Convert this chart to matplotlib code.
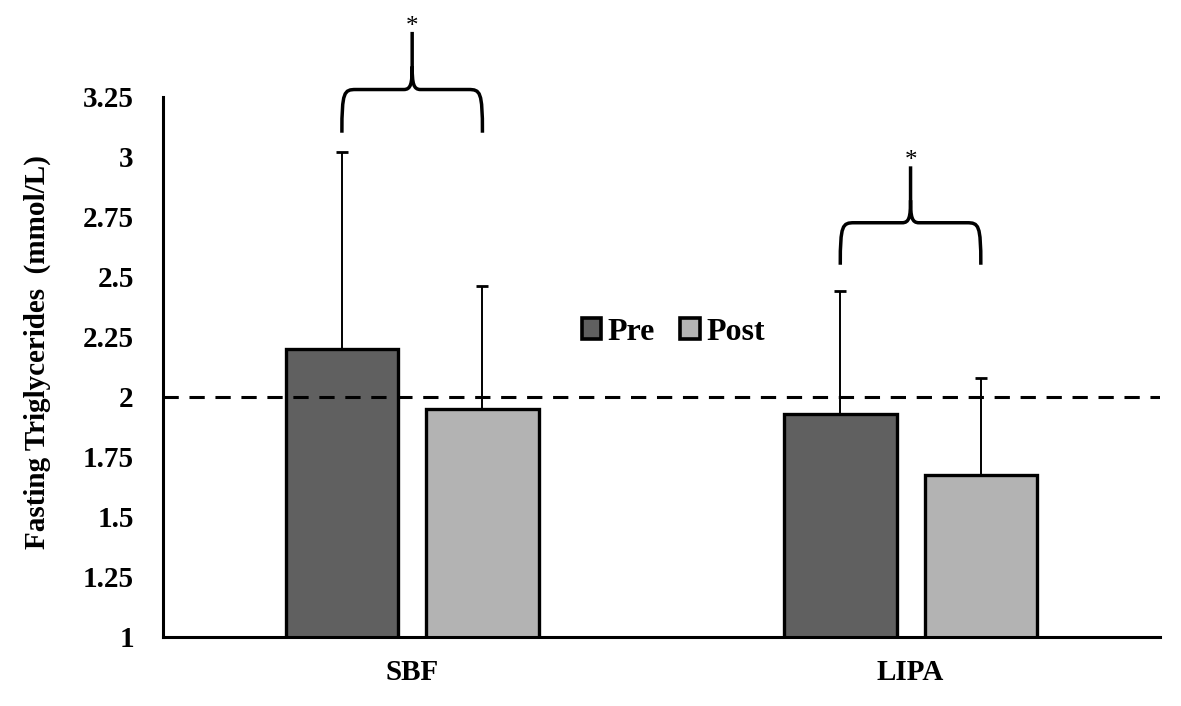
import numpy as np
import matplotlib.pyplot as plt
from matplotlib.path import Path
from matplotlib.patches import PathPatch, Patch

# 数据
groups = ['SBF', 'LIPA']
pre_mean = [2.20, 1.93]
post_mean = [1.95, 1.675]
pre_err = [0.82, 0.51]
post_err = [0.51, 0.405]
reference_level = 2.0
y_ticks = [1, 1.25, 1.5, 1.75, 2, 2.25, 2.5, 2.75, 3, 3.25]
# 显著性括号高度: (端点, 横线, 尖端)
brace_levels = [(3.10, 3.28, 3.52), (2.55, 2.725, 2.96)]

plt.rcParams['font.family'] = ['Liberation Serif', 'DejaVu Serif']
plt.rcParams['font.weight'] = 'bold'


def draw_brace(ax, x0, x1, y_end, y_bar, y_tip):
    """画一个朝上的花括号"""
    xm = (x0 + x1) / 2
    h = y_bar - y_end
    dx = 0.028
    t = y_tip - y_bar
    verts = [
        (x0, y_end),
        (x0, y_end + h * 0.95), (x0 + dx * 0.15, y_bar), (x0 + dx, y_bar),
        (xm - dx * 0.6, y_bar),
        (xm - dx * 0.1, y_bar), (xm, y_bar + t * 0.1), (xm, y_bar + t * 0.4),
        (xm, y_tip),
        (xm, y_bar + t * 0.4),
        (xm, y_bar + t * 0.1), (xm + dx * 0.1, y_bar), (xm + dx * 0.6, y_bar),
        (x1 - dx, y_bar),
        (x1 - dx * 0.15, y_bar), (x1, y_end + h * 0.95), (x1, y_end),
    ]
    codes = [Path.MOVETO,
             Path.CURVE4, Path.CURVE4, Path.CURVE4,
             Path.LINETO,
             Path.CURVE4, Path.CURVE4, Path.CURVE4,
             Path.LINETO,
             Path.MOVETO,
             Path.CURVE4, Path.CURVE4, Path.CURVE4,
             Path.LINETO,
             Path.CURVE4, Path.CURVE4, Path.CURVE4]
    patch = PathPatch(Path(verts, codes), fill=False, lw=2.5, ec='black',
                      clip_on=False, capstyle='butt', joinstyle='round')
    ax.add_patch(patch)
    ax.text(xm, y_tip - 0.025, '*', ha='center', va='bottom', fontsize=18,
            fontweight='normal', clip_on=False)


fig = plt.figure(figsize=(11.81, 7.06), dpi=100)
ax = fig.add_axes([0.138, 0.098, 0.844, 0.765])

x = np.arange(len(groups))
width = 0.226
offset = 0.141
pre_color = '#606060'
post_color = '#b3b3b3'

ax.bar(x - offset, pre_mean, width, bottom=0, color=pre_color, edgecolor='black', linewidth=2.4, zorder=2)
ax.bar(x + offset, post_mean, width, bottom=0, color=post_color, edgecolor='black', linewidth=2.4, zorder=2)
ax.errorbar(x - offset, pre_mean, yerr=[np.zeros(len(x)), pre_err], fmt='none',
            ecolor='black', elinewidth=1.4, capsize=4.5, capthick=2, zorder=1)
ax.errorbar(x + offset, post_mean, yerr=[np.zeros(len(x)), post_err], fmt='none',
            ecolor='black', elinewidth=1.4, capsize=4.5, capthick=2, zorder=1)

ax.axhline(reference_level, color='black', lw=2.2, dashes=(5, 3.5), zorder=3)

for i, (y_end, y_bar, y_tip) in enumerate(brace_levels):
    draw_brace(ax, x[i] - offset, x[i] + offset, y_end, y_bar, y_tip)

ax.set_xlim(-0.5, 1.5)
ax.set_ylim(1, 3.25)
ax.set_yticks(y_ticks)
ax.set_yticklabels([f'{t:g}' for t in y_ticks])
ax.set_xticks(x)
ax.set_xticklabels(groups)
ax.tick_params(length=0, labelsize=21)
ax.tick_params(axis='x', pad=16)
ax.tick_params(axis='y', pad=21)
for lab in ax.get_xticklabels() + ax.get_yticklabels():
    lab.set_fontweight('bold')

ax.set_ylabel('Fasting Triglycerides  (mmol/L)', fontsize=21, fontweight='bold')
ax.yaxis.set_label_coords(-0.112, 0.527)

for side in ['top', 'right']:
    ax.spines[side].set_visible(False)
for side in ['left', 'bottom']:
    ax.spines[side].set_linewidth(2.2)

handles = [Patch(facecolor=pre_color, edgecolor='black', linewidth=2.6, label='Pre'),
           Patch(facecolor=post_color, edgecolor='black', linewidth=2.6, label='Post')]
ax.legend(handles=handles, loc='center', bbox_to_anchor=(0.512, 0.564), ncol=2,
          frameon=False, handlelength=0.6, handleheight=0.6,
          handletextpad=0.2, columnspacing=0.8, prop={'weight': 'bold', 'size': 23})

fig.savefig('out.png', dpi=100)
